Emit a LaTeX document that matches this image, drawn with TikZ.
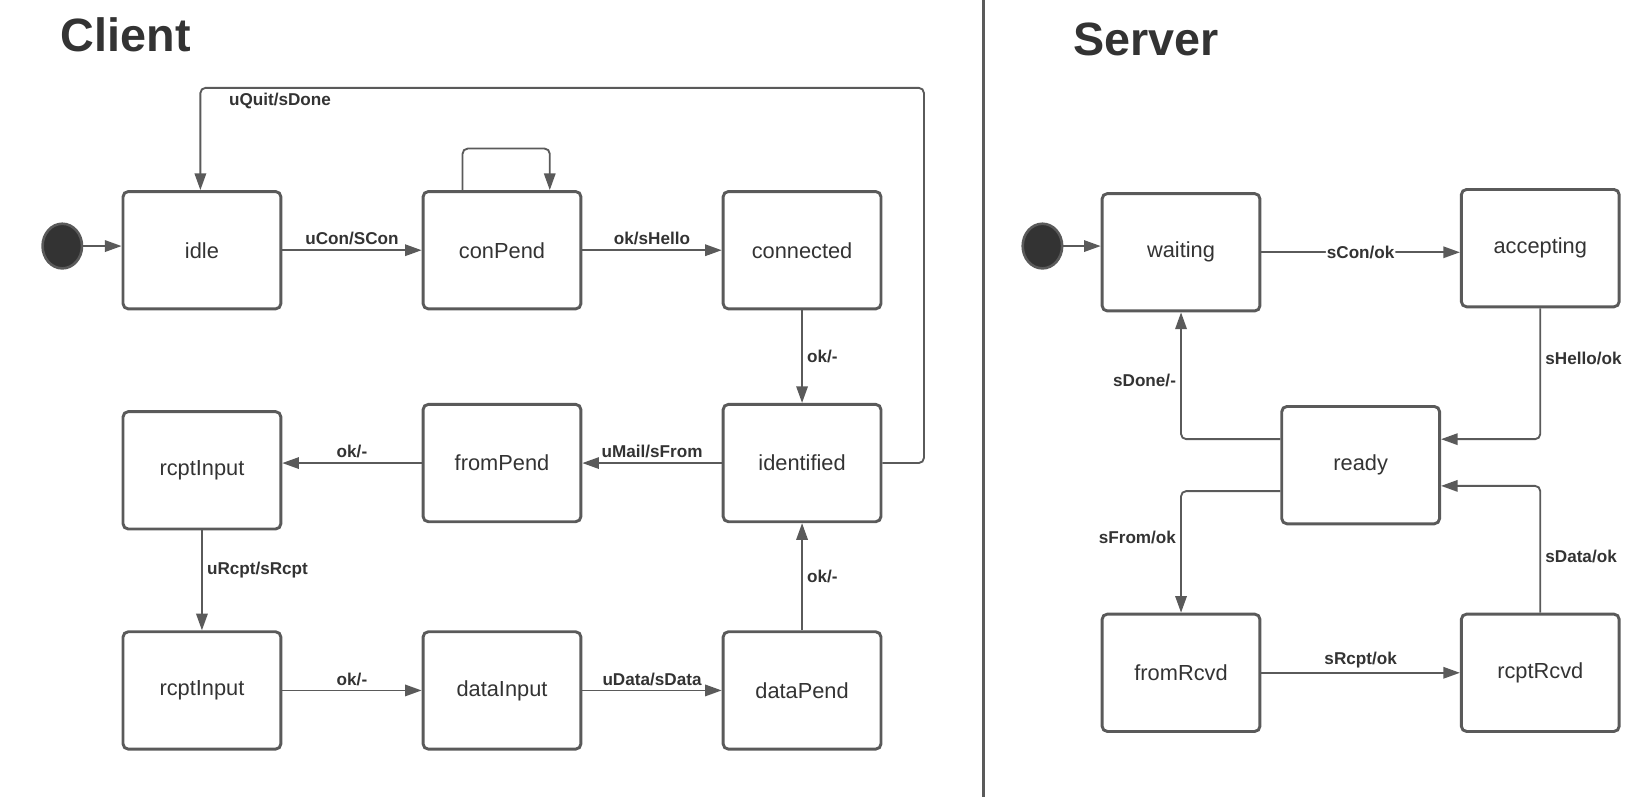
\documentclass[tikz,border=0pt]{standalone}
\usepackage{fontspec}
\setmainfont{Liberation Sans}
\usepackage{xcolor}
\usepackage{tikz}
\usetikzlibrary{positioning,arrows.meta,shapes.geometric}
\definecolor{linegray}{HTML}{5A5A5A}
\definecolor{inkgray}{HTML}{333333}

\begin{document}
\begin{tikzpicture}[x=1pt,y=1pt,auto,
    every node/.style={on grid,node distance=289pt,text=inkgray},
    state/.style={draw=linegray,line width=2.8pt,rounded corners=5pt,
      minimum width=152pt,minimum height=113pt,inner sep=0pt,
      font=\fontsize{21}{25}\selectfont},
    start/.style={ellipse,draw=linegray,fill=inkgray,line width=2.5pt,
      minimum width=38pt,minimum height=43pt,inner sep=0pt},
    trans/.style={draw=linegray,line width=1.8pt,rounded corners=5pt,
      -{Triangle[length=16pt,width=11pt]}},
    lbl/.style={inner sep=4pt,font=\bfseries\fontsize{16.5}{20}\selectfont},
    title/.style={anchor=base west,font=\bfseries\fontsize{45}{54}\selectfont}]
    \useasboundingbox (0,0) rectangle (1568,770);
    \node[title] (client) at (55,720) {Client};
    \node[title] (server) at (1030,717) {Server};
    \draw[linegray,line width=2.8pt] (947,770) -- (947,2);

    \node[start] (initC) at (60,533) {};
    \node[state] (idle) at (194.5,529) {idle};
    \node[state,right of=idle] (conPend) {conPend};
    \node[state,right of=conPend] (connected) {connected};
    \node[state,node distance=205pt,below of=connected] (identified) {identified};
    \node[state,left of=identified] (fromPend) {fromPend};
    \node[state,left of=fromPend,yshift=-7pt] (rcptA) {rcptInput};
    \node[state,node distance=212pt,below of=rcptA] (rcptB) {rcptInput};
    \node[state,right of=rcptB] (dataInput) {dataInput};
    \node[state,right of=dataInput] (dataPend) {dataPend};
    \draw[trans] (initC) -- (initC -| idle.west);
    \draw[trans] (idle) -- node[lbl] {uCon/SCon} (conPend);
    \draw[trans] ([xshift=-38pt]conPend.north) -- ++(0,40) -| ([xshift=46pt]conPend.north);
    \draw[trans] (conPend) -- node[lbl] {ok/sHello} (connected);
    \draw[trans] (connected) -- node[lbl] {ok/-} (identified);
    \draw[trans] (identified) -- node[lbl,swap] {uMail/sFrom} (fromPend);
    \draw[trans] (fromPend.west) -- node[lbl,swap] {ok/-} (fromPend.west -| rcptA.east);
    \draw[trans] (rcptA) -- node[lbl,pos=0.4] {uRcpt/sRcpt} (rcptB);
    \draw[trans] (rcptB) -- node[lbl] {ok/-} (dataInput);
    \draw[trans] (dataInput) -- node[lbl] {uData/sData} (dataPend);
    \draw[trans] (dataPend) -- node[lbl,swap] {ok/-} (identified);
    \draw[trans] (identified.east) -- ++(40,0) |- node[lbl,pos=0.945] {uQuit/sDone}
      ([xshift=-1.5pt,yshift=98.5pt]idle.north) -- ([xshift=-1.5pt]idle.north);

    \node[start] (initS) at (1004,533) {};
    \node[state] (waiting) at (1137.5,527) {waiting};
    \node[state,node distance=346pt,right of=waiting,yshift=4pt] (accepting) {accepting};
    \node[state] (ready) at (1310.5,322) {ready};
    \node[state] (fromRcvd) at (1137.5,122) {fromRcvd};
    \node[state,node distance=346pt,right of=fromRcvd] (rcptRcvd) {rcptRcvd};
    \draw[trans] (initS) -- (initS -| waiting.west);
    \draw[trans] (waiting) -- node[lbl,fill=white,inner sep=1pt,anchor=center] {sCon/ok} (waiting -| accepting.west);
    \draw[trans] (accepting) |- node[lbl,pos=0.19] {sHello/ok} ([yshift=25pt]ready.east);
    \draw[trans] ([yshift=25pt]ready.west) -| node[lbl,pos=0.73] {sDone/-} (waiting);
    \draw[trans] ([yshift=-25pt]ready.west) -| node[lbl,pos=0.69,swap] {sFrom/ok} (fromRcvd);
    \draw[trans] (fromRcvd) -- node[lbl] {sRcpt/ok} (rcptRcvd);
    \draw[trans] (rcptRcvd) |- node[lbl,pos=0.22,swap] {sData/ok} ([yshift=-20pt]ready.east);
  \end{tikzpicture}
\end{document}
